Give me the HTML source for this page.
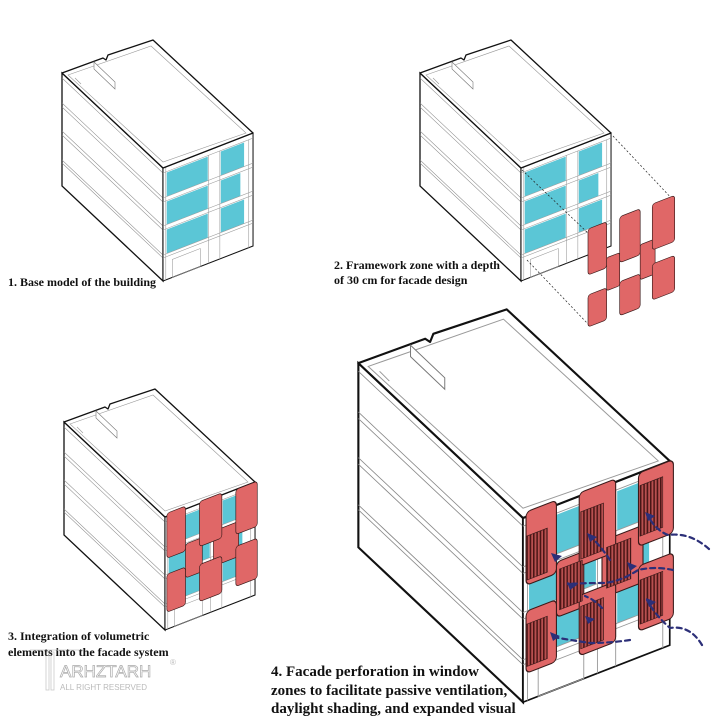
<!DOCTYPE html>
<html><head><meta charset="utf-8"><style>
html,body{margin:0;padding:0;background:#fff;}
svg{display:block}
text{font-family:"Liberation Serif",serif;font-weight:bold;fill:#111}
</style></head><body>
<svg width="720" height="720" viewBox="0 0 720 720" xmlns="http://www.w3.org/2000/svg">
<defs>
<pattern id="hatch" patternUnits="userSpaceOnUse" width="2.2" height="10">
<rect width="2.2" height="10" fill="#b85050"/>
<rect width="1" height="10" fill="#4a1616"/>
</pattern>
<g id="bld">
  <polygon points="-101,-95 0,0 0,113 -101,18" fill="#fff" stroke="#111" stroke-width="1.3"/>
  <g transform="matrix(0.728,0.685,0,1,-101,-95)" stroke="#888" stroke-width="0.7" fill="none">
    <line x1="0" y1="5" x2="138.7" y2="5"/>
    <line x1="0" y1="30" x2="138.7" y2="30"/>
    <line x1="0" y1="34" x2="138.7" y2="34"/>
    <line x1="0" y1="58" x2="138.7" y2="58"/>
    <line x1="0" y1="62" x2="138.7" y2="62"/>
    <line x1="0" y1="87" x2="138.7" y2="87"/>
    <line x1="0" y1="90" x2="138.7" y2="90"/>
  </g>
  <g transform="matrix(0.932,-0.362,0,1,0,0)">
    <polygon points="0,0 96.6,0 96.6,113 0,113" fill="#fff" stroke="#111" stroke-width="1.1"/>
    <rect x="4" y="6" width="44" height="24" fill="#5bc6d6"/>
    <rect x="62" y="6" width="25" height="24" fill="#5bc6d6"/>
    <rect x="4" y="35" width="44" height="23" fill="#5bc6d6"/>
    <rect x="62" y="35" width="21" height="23" fill="#5bc6d6"/>
    <rect x="4" y="63" width="44" height="24" fill="#5bc6d6"/>
    <rect x="62" y="63" width="25" height="24" fill="#5bc6d6"/>
    <g stroke="#999" stroke-width="0.6" fill="none">
      <line x1="0" y1="5" x2="96.6" y2="5"/>
      <line x1="0" y1="30" x2="96.6" y2="30"/>
      <line x1="0" y1="34" x2="96.6" y2="34"/>
      <line x1="0" y1="58" x2="96.6" y2="58"/>
      <line x1="0" y1="62" x2="96.6" y2="62"/>
      <line x1="0" y1="87" x2="96.6" y2="87"/>
      <line x1="0" y1="90" x2="96.6" y2="90"/>
      <line x1="3" y1="0" x2="3" y2="113"/>
      <line x1="49" y1="5" x2="49" y2="113"/>
      <line x1="61" y1="5" x2="61" y2="113"/>
      <line x1="92" y1="5" x2="92" y2="113"/>
      <rect x="10" y="95" width="30" height="18"/>
    </g>
  </g>
  <polygon points="-101,-95 -60,-110 -57,-108 -55,-113 -10,-128 90,-35 0,0" fill="#fff" stroke="#111" stroke-width="1.3" stroke-linejoin="round"/>
  <polygon points="-95,-93 -12,-122 83,-35 0,-6" fill="none" stroke="#999" stroke-width="0.6"/>
  <polygon points="-69,-106 -48,-86 -48,-79 -69,-99" fill="#fff" stroke="#777" stroke-width="0.6"/>
  <line x1="-88" y1="-90" x2="-82" y2="-84" stroke="#999" stroke-width="0.6"/>
</g>
<g id="p3">
  <g transform="matrix(0.932,-0.362,0,1,0,0)" fill="#e06767" stroke="#3a1a1a" stroke-width="0.7">
    <rect x="22" y="35" width="18" height="34" rx="3"/>
    <rect x="52" y="33" width="27" height="35" rx="3"/>
    <rect x="2" y="-3" width="20" height="45" rx="3"/>
    <rect x="37" y="-2" width="24" height="45" rx="3"/>
    <rect x="76" y="0" width="23" height="45" rx="3"/>
    <rect x="2" y="58" width="20" height="38" rx="3"/>
    <rect x="37" y="61" width="24" height="37" rx="3"/>
    <rect x="76" y="57" width="23" height="40" rx="3"/>
  </g>
</g>
</defs>

<use href="#bld" transform="translate(163,168)"/>
<use href="#bld" transform="translate(521,168)"/>
<g stroke="#222" stroke-width="0.7" stroke-dasharray="2,2" fill="none">
  <line x1="522" y1="170" x2="590" y2="235"/>
  <line x1="613" y1="136" x2="675" y2="202"/>
  <line x1="527" y1="260" x2="588" y2="324"/>
</g>
<g transform="translate(588,229) matrix(0.932,-0.362,0,1,0,0)" fill="#e06767" stroke="#3a1a1a" stroke-width="0.7">
  <rect x="20" y="36" width="14" height="33" rx="2"/>
  <rect x="56" y="36" width="16" height="35" rx="2"/>
  <rect x="0" y="0" width="20" height="46" rx="3"/>
  <rect x="34" y="0" width="22" height="46" rx="3"/>
  <rect x="69" y="0" width="24" height="46" rx="3"/>
  <rect x="0" y="66" width="20" height="32" rx="3"/>
  <rect x="34" y="65" width="22" height="34" rx="3"/>
  <rect x="69" y="60" width="24" height="36" rx="3"/>
</g>

<use href="#bld" transform="translate(165,517)"/>
<use href="#p3" transform="translate(165,517)"/>

<use href="#bld" transform="translate(523,518) scale(1.63)"/>
<g transform="translate(523,518) scale(1.63)">
  <use href="#p3"/>
  <g transform="matrix(0.932,-0.362,0,1,0,0)" fill="url(#hatch)" stroke="#3a1a1a" stroke-width="0.4">
    <rect x="2" y="12" width="14" height="27"/>
    <rect x="38" y="10" width="15" height="29"/>
    <rect x="77" y="8" width="15" height="31"/>
    <rect x="24" y="40" width="15" height="25"/>
    <rect x="55" y="38" width="16" height="25"/>
    <rect x="2" y="66" width="14" height="26"/>
    <rect x="38" y="68" width="15" height="26"/>
    <rect x="77" y="66" width="15" height="27"/>
  </g>
</g>
<g stroke="#2c2f78" stroke-width="2.2" stroke-dasharray="5,4" fill="none" stroke-linecap="round">
  <path d="M709 549 Q690 532 668 535 Q655 530 647 514"/>
  <path d="M702 645 Q690 625 670 628 Q655 615 647 600"/>
  <path d="M673 570 Q655 566 638 570 Q620 582 603 583 Q585 583 568 584"/>
  <path d="M630 640 Q610 643 590 643 Q570 640 553 637"/>
  <path d="M602 608 Q595 600 585 596"/>
  <path d="M610 560 Q600 545 588 534"/>
</g>
<g fill="#2c2f78">
  <polygon points="551,553 562,556 555,562"/>
  <polygon points="587,533 597,537 590,542"/>
  <polygon points="645,512 655,516 648,521"/>
  <polygon points="567,582 577,585 570,590"/>
  <polygon points="585,616 595,619 588,624"/>
  <polygon points="550,632 560,636 553,641"/>
  <polygon points="646,598 656,602 649,607"/>
  <polygon points="627,562 637,566 630,571"/>
</g>

<text x="8" y="286" font-size="12">1. Base model of the building</text>
<text x="334" y="269" font-size="12">2. Framework zone with a depth</text>
<text x="334" y="284" font-size="12">of 30 cm for facade design</text>
<text x="8" y="640" font-size="12">3. Integration of volumetric</text>
<text x="8" y="656" font-size="12">elements into the facade system</text>
<text x="271" y="676" font-size="15">4. Facade perforation in window</text>
<text x="271" y="695" font-size="15">zones to facilitate passive ventilation,</text>
<text x="271" y="713" font-size="15">daylight shading, and expanded visual</text>

<g opacity="0.45" fill="none" stroke="#888" stroke-width="0.8">
  <rect x="46" y="652" width="3" height="38"/>
  <rect x="51" y="652" width="3" height="38"/>
  <line x1="30" y1="650" x2="84" y2="650"/>
</g>
<text x="60" y="677" font-size="17" style="font-family:'Liberation Sans',sans-serif;font-weight:normal;fill:none;stroke:#aaa;stroke-width:0.7">ARHZTARH</text>
<text x="60" y="690" font-size="8" style="font-family:'Liberation Sans',sans-serif;font-weight:normal;fill:#bbb">ALL RIGHT RESERVED</text>
<text x="170" y="665" font-size="8" style="font-family:'Liberation Sans',sans-serif;font-weight:normal;fill:#bbb">®</text>
</svg>
</body></html>
